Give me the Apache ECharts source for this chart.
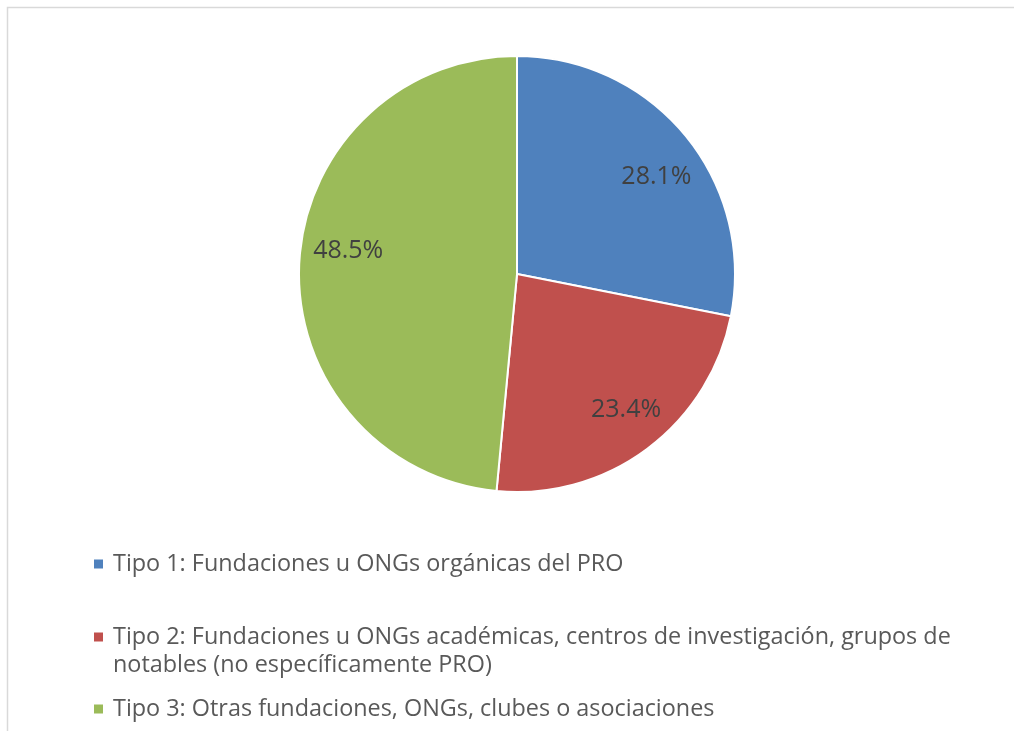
<!DOCTYPE html>
<html>
<head>
<meta charset="utf-8">
<script src="https://cdn.jsdelivr.net/npm/echarts@6/dist/echarts.min.js"></script>
<style>
  html, body { margin: 0; padding: 0; background: #fff; }
  #chart { width: 1014px; height: 731px; }
</style>
</head>
<body>
<div id="chart"></div>
<script>
// datos del grafico
var categorias = [
    'Tipo 1: Fundaciones u ONGs orgánicas del PRO',
    'Tipo 2: Fundaciones u ONGs académicas, centros de investigación, grupos de notables (no específicamente PRO)',
    'Tipo 3: Otras fundaciones, ONGs, clubes o asociaciones'
];
var valores = [28.1, 23.4, 48.5];
var colores = ['#4F81BD', '#C0504D', '#9BBB59'];
// pequeños ajustes de las etiquetas respecto al centro del sector
var ajusteEtiquetas = [[5, 13], [5, -4], [5, -15]];
var fuente = 'Open Sans';

var chart = echarts.init(document.getElementById('chart'));

var datos = categorias.map(function (nombre, i) {
    return { name: nombre, value: valores[i], itemStyle: { color: colores[i] } };
});

// textos de leyenda (el tipo 2 va en dos lineas; la linea vacia de arriba
// deja el cuadrito alineado con la primera linea)
function textoLeyenda(nombre) {
    if (nombre === categorias[1]) {
        return '\nTipo 2: Fundaciones u ONGs académicas, centros de investigación, grupos de\nnotables (no específicamente PRO)';
    }
    return nombre;
}

function leyenda(i, top) {
    return {
        data: [categorias[i]],
        left: 92,
        top: top,
        orient: 'vertical',
        icon: 'rect',
        itemWidth: 11,
        itemHeight: 11,
        selectedMode: false,
        padding: 0,
        formatter: textoLeyenda,
        textStyle: {
            fontFamily: fuente,
            fontSize: 23.4,
            color: '#595959',
            lineHeight: 28,
            padding: [0, 0, 0, 4]
        }
    };
}

var option = {
    animation: false,
    backgroundColor: '#fff',
    graphic: [{
        type: 'rect',
        shape: { x: 7.5, y: 7.5, width: 1040, height: 760 },
        style: { fill: 'none', stroke: '#D9D9D9', lineWidth: 1.5 },
        silent: true
    }],
    legend: [
        leyenda(0, 550),
        leyenda(1, 595),
        leyenda(2, 695)
    ],
    series: [{
        name: 'Tipos',
        type: 'pie',
        center: [517, 274],
        radius: 218,
        startAngle: 90,
        clockwise: true,
        label: { show: false },
        labelLine: { show: false },
        itemStyle: { borderColor: '#fff', borderWidth: 2 },
        emphasis: { disabled: true },
        data: datos
    }, {
        // serie transparente solo para colocar las etiquetas
        name: 'Etiquetas',
        type: 'pie',
        center: [517, 274],
        radius: [124, 218],
        startAngle: 90,
        clockwise: true,
        silent: true,
        itemStyle: { color: 'transparent', borderWidth: 0 },
        label: {
            show: true,
            position: 'inside',
            fontFamily: fuente,
            fontSize: 25,
            color: '#404040',
            formatter: function (p) { return p.value.toFixed(1) + '%'; }
        },
        labelLine: { show: false },
        emphasis: { disabled: true },
        data: valores.map(function (v, i) {
            return { name: categorias[i] + ' ', value: v, label: { offset: ajusteEtiquetas[i] } };
        })
    }]
};

chart.setOption(option);
</script>
</body>
</html>
